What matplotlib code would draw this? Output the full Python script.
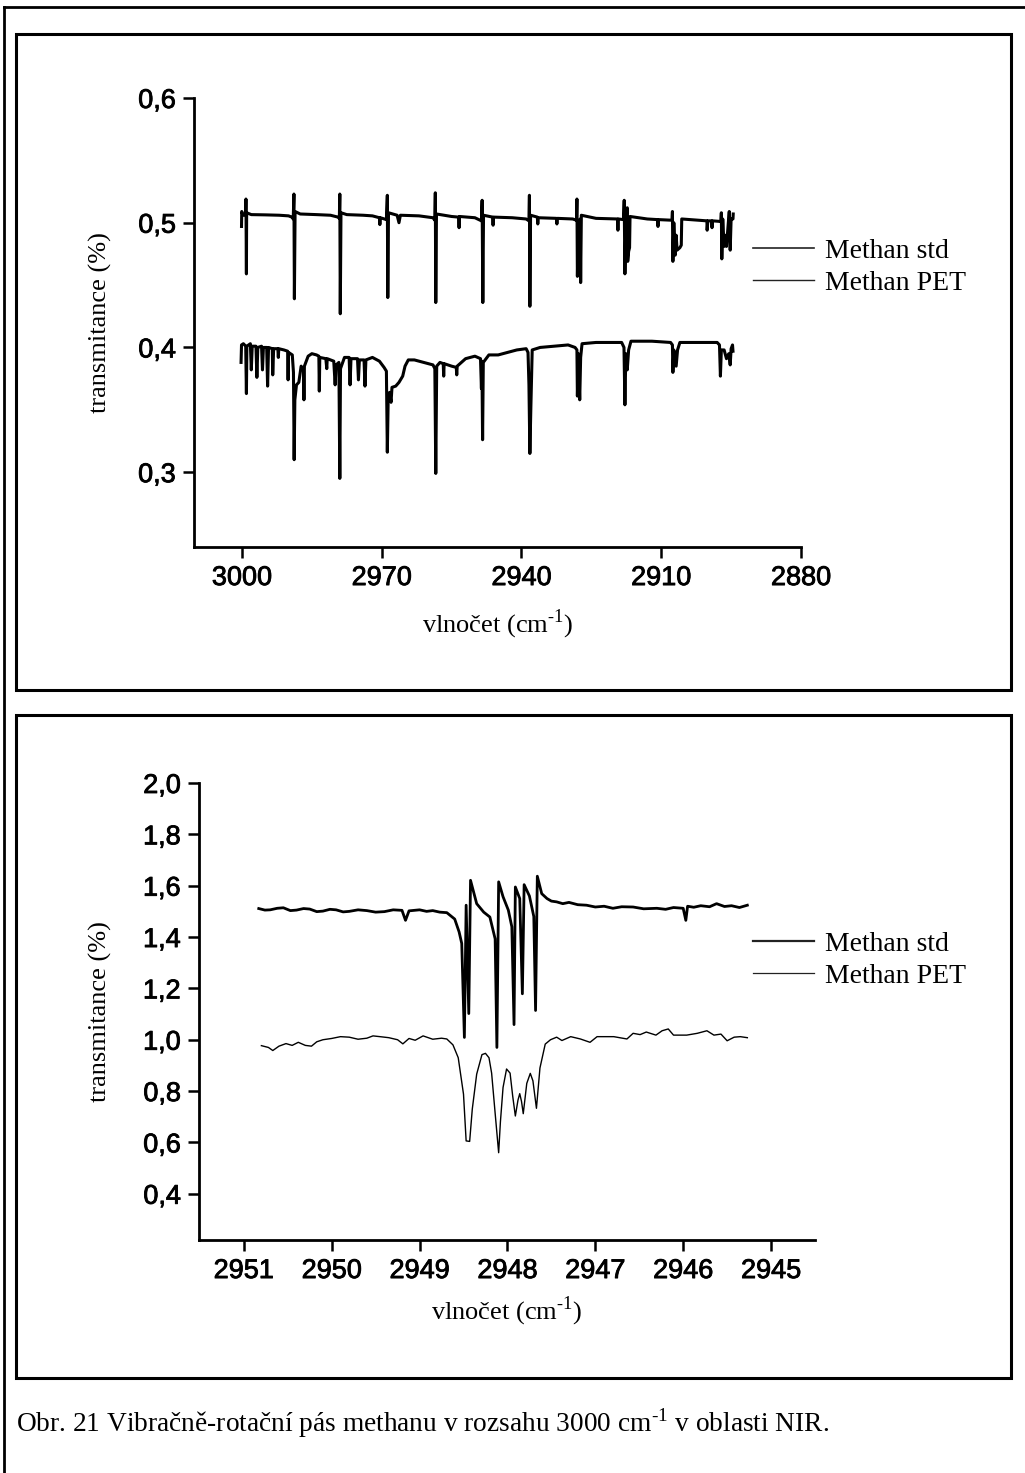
import matplotlib
matplotlib.use("Agg")
import matplotlib.pyplot as plt
import matplotlib.patheffects as pe
from matplotlib.lines import Line2D
from matplotlib.patches import Rectangle
from matplotlib.ticker import FixedLocator, FuncFormatter


W, H = 1025, 1473

# top panel: whole band, wavenumber (cm-1) / transmittance
top_std_x = [
    3000.1, 3000.05, 2999.8, 2999.2, 2999.15, 2999.05, 2999.0, 2998.0, 2995.0, 2992.0,
    2990.0, 2989.3, 2989.0, 2988.85, 2988.75, 2988.6, 2987.5, 2984.0, 2981.0, 2979.4,
    2979.1, 2979.0, 2978.9, 2978.75, 2977.5, 2974.0, 2972.0, 2970.5, 2970.4, 2970.3,
    2969.0, 2968.8, 2968.7, 2968.55, 2966.7, 2966.3, 2966.0, 2962.0, 2959.0, 2958.6,
    2958.5, 2958.4, 2958.25, 2955.0, 2953.5, 2953.4, 2953.3, 2950.0, 2948.6, 2948.45,
    2948.3, 2948.15, 2946.2, 2946.1, 2946.0, 2942.0, 2939.0, 2938.4, 2938.3, 2938.2,
    2938.05, 2936.6, 2936.5, 2936.4, 2932.5, 2932.4, 2932.3, 2929.0, 2928.2, 2928.1,
    2928.0, 2927.8, 2927.4, 2927.3, 2927.15, 2924.0, 2919.4, 2919.3, 2919.2, 2918.1,
    2917.95, 2917.8, 2917.6, 2917.3, 2917.2, 2917.0, 2916.8, 2916.7, 2913.0, 2910.8,
    2910.7, 2910.6, 2907.7, 2907.6, 2907.5, 2907.3, 2907.0, 2906.8, 2906.6, 2906.0,
    2905.7, 2905.6, 2902.0, 2900.2, 2900.15, 2900.0, 2899.2, 2899.1, 2899.0, 2897.2,
    2897.1, 2897.0, 2896.8, 2896.5, 2896.3, 2896.0, 2895.6, 2895.4, 2895.2, 2895.0,
    2894.6, 2894.55,
]
top_std_y = [
    0.497, 0.509, 0.506, 0.5065, 0.519, 0.459, 0.508, 0.5065, 0.5063, 0.506,
    0.5055, 0.5045, 0.503, 0.523, 0.439, 0.509, 0.507, 0.5065, 0.506, 0.5045,
    0.5035, 0.523, 0.427, 0.508, 0.5065, 0.506, 0.5055, 0.504, 0.4985, 0.504,
    0.5025, 0.522, 0.440, 0.508, 0.506, 0.500, 0.506, 0.5055, 0.504, 0.502,
    0.524, 0.436, 0.507, 0.505, 0.5045, 0.496, 0.505, 0.504, 0.5015, 0.518,
    0.436, 0.506, 0.5045, 0.498, 0.5045, 0.504, 0.503, 0.5015, 0.522, 0.433,
    0.506, 0.5045, 0.499, 0.504, 0.5035, 0.499, 0.5035, 0.503, 0.502, 0.519,
    0.457, 0.500, 0.503, 0.452, 0.506, 0.5035, 0.503, 0.494, 0.503, 0.5025,
    0.518, 0.459, 0.500, 0.512, 0.469, 0.477, 0.480, 0.505, 0.503, 0.5025,
    0.497, 0.5025, 0.502, 0.509, 0.469, 0.500, 0.474, 0.490, 0.478, 0.480,
    0.482, 0.503, 0.502, 0.5015, 0.494, 0.5015, 0.5015, 0.496, 0.5015, 0.501,
    0.508, 0.471, 0.503, 0.481, 0.490, 0.481, 0.500, 0.509, 0.478, 0.503,
    0.503, 0.507,
]

top_pet_x = [
    3000.2, 3000.1, 2999.7, 2999.2, 2999.05, 2998.95, 2998.2, 2998.0, 2997.8, 2997.0,
    2996.8, 2996.6, 2995.8, 2995.6, 2995.4, 2994.7, 2994.5, 2994.3, 2993.5, 2993.4,
    2993.2, 2992.3, 2992.2, 2992.1, 2991.0, 2990.2, 2990.1, 2990.0, 2989.2, 2988.95,
    2988.8, 2988.65, 2988.3, 2987.8, 2987.3, 2986.8, 2986.7, 2986.6, 2985.8, 2985.0,
    2984.0, 2983.5, 2983.4, 2983.3, 2982.0, 2981.8, 2981.7, 2980.3, 2980.0, 2979.8,
    2979.2, 2979.0, 2978.85, 2978.0, 2977.0, 2976.8, 2976.6, 2975.2, 2975.0, 2974.8,
    2973.8, 2973.6, 2973.4, 2972.0, 2970.5, 2969.5, 2969.0, 2968.8, 2968.6, 2968.3,
    2968.0, 2967.8, 2967.0, 2966.3, 2965.5, 2965.0, 2964.3, 2963.0, 2961.0, 2959.0,
    2958.6, 2958.4, 2958.2, 2957.5, 2956.8, 2956.7, 2956.6, 2955.0, 2954.0, 2953.9,
    2953.8, 2952.0, 2950.0, 2948.8, 2948.6, 2948.5, 2948.35, 2948.2, 2947.0, 2945.0,
    2943.0, 2941.0, 2939.0, 2938.6, 2938.4, 2938.2, 2938.0, 2937.7, 2936.0, 2933.0,
    2930.0, 2928.5, 2928.1, 2928.0, 2927.8, 2927.5, 2927.3, 2927.0, 2924.0, 2921.0,
    2918.5, 2918.0, 2917.8, 2917.6, 2917.3, 2917.0, 2916.5, 2912.0, 2908.0, 2907.6,
    2907.5, 2907.3, 2906.8, 2906.5, 2906.0, 2902.0, 2898.0, 2897.5, 2897.3, 2897.1,
    2896.5, 2896.0, 2895.5, 2895.2, 2895.0, 2894.7, 2894.6,
]
top_pet_y = [
    0.388, 0.402, 0.403, 0.401, 0.363, 0.401, 0.403, 0.382, 0.401, 0.401,
    0.376, 0.400, 0.401, 0.382, 0.400, 0.400, 0.369, 0.400, 0.399, 0.378,
    0.399, 0.399, 0.392, 0.399, 0.398, 0.397, 0.374, 0.396, 0.394, 0.380,
    0.310, 0.358, 0.370, 0.372, 0.385, 0.382, 0.358, 0.385, 0.393, 0.395,
    0.394, 0.393, 0.365, 0.392, 0.391, 0.383, 0.391, 0.389, 0.370, 0.386,
    0.388, 0.295, 0.383, 0.392, 0.392, 0.370, 0.391, 0.391, 0.374, 0.390,
    0.390, 0.369, 0.390, 0.392, 0.389, 0.384, 0.381, 0.316, 0.362, 0.364,
    0.356, 0.368, 0.369, 0.372, 0.377, 0.385, 0.390, 0.390, 0.388, 0.386,
    0.383, 0.299, 0.385, 0.388, 0.387, 0.377, 0.387, 0.385, 0.384, 0.378,
    0.385, 0.391, 0.393, 0.391, 0.367, 0.389, 0.326, 0.388, 0.394, 0.394,
    0.396, 0.398, 0.399, 0.396, 0.370, 0.315, 0.350, 0.398, 0.400, 0.401,
    0.402, 0.400, 0.398, 0.361, 0.395, 0.358, 0.392, 0.403, 0.404, 0.404,
    0.404, 0.400, 0.354, 0.395, 0.382, 0.398, 0.405, 0.405, 0.404, 0.402,
    0.380, 0.398, 0.385, 0.398, 0.404, 0.404, 0.404, 0.402, 0.377, 0.398,
    0.398, 0.391, 0.395, 0.386, 0.399, 0.402, 0.397,
]

# bottom panel: detail around 2948 cm-1
bot_std_x = [
    2950.83, 2950.76, 2950.7, 2950.62, 2950.55, 2950.47, 2950.4, 2950.32, 2950.25, 2950.17,
    2950.1, 2950.02, 2949.95, 2949.87, 2949.8, 2949.7, 2949.6, 2949.5, 2949.4, 2949.3,
    2949.2, 2949.16, 2949.12, 2949.0, 2948.92, 2948.85, 2948.77, 2948.69, 2948.6, 2948.55,
    2948.52, 2948.49, 2948.47, 2948.44, 2948.42, 2948.35, 2948.27, 2948.2, 2948.14, 2948.12,
    2948.10, 2948.05, 2947.99, 2947.95, 2947.925, 2947.91, 2947.86, 2947.83, 2947.81, 2947.75,
    2947.70, 2947.68, 2947.66, 2947.61, 2947.55, 2947.5, 2947.44, 2947.37, 2947.3, 2947.2,
    2947.1, 2947.0, 2946.9, 2946.8, 2946.7, 2946.57, 2946.45, 2946.3, 2946.2, 2946.11,
    2946.0, 2945.97, 2945.95, 2945.88, 2945.8, 2945.7, 2945.62, 2945.53, 2945.45, 2945.36,
    2945.27,
]
bot_std_y = [
    1.511, 1.505, 1.506, 1.512, 1.514, 1.503, 1.505, 1.511, 1.509, 1.499,
    1.501, 1.508, 1.506, 1.498, 1.500, 1.506, 1.503, 1.497, 1.499, 1.506,
    1.504, 1.465, 1.502, 1.506, 1.500, 1.503, 1.497, 1.495, 1.470, 1.420,
    1.375, 1.009, 1.524, 1.102, 1.621, 1.530, 1.497, 1.478, 1.393, 0.970,
    1.615, 1.557, 1.505, 1.440, 1.059, 1.595, 1.550, 1.179, 1.604, 1.560,
    1.480, 1.114, 1.637, 1.569, 1.550, 1.540, 1.537, 1.530, 1.535, 1.526,
    1.524, 1.517, 1.520, 1.512, 1.518, 1.517, 1.510, 1.512, 1.508, 1.515,
    1.512, 1.465, 1.520, 1.516, 1.522, 1.518, 1.530, 1.519, 1.522, 1.515,
    1.524,
]

bot_pet_x = [
    2950.80, 2950.72, 2950.67, 2950.6, 2950.52, 2950.45, 2950.38, 2950.3, 2950.23, 2950.17,
    2950.1, 2950.0, 2949.9, 2949.8, 2949.7, 2949.6, 2949.53, 2949.45, 2949.35, 2949.25,
    2949.19, 2949.12, 2949.05, 2948.96, 2948.85, 2948.75, 2948.69, 2948.62, 2948.56, 2948.50,
    2948.47, 2948.43, 2948.40, 2948.35, 2948.29, 2948.25, 2948.21, 2948.18, 2948.14, 2948.10,
    2948.08, 2948.05, 2948.01, 2947.97, 2947.94, 2947.91, 2947.88, 2947.86, 2947.84, 2947.82,
    2947.78, 2947.74, 2947.71, 2947.67, 2947.63, 2947.57, 2947.51, 2947.44, 2947.38, 2947.28,
    2947.17, 2947.06, 2946.98, 2946.79, 2946.64, 2946.57, 2946.49, 2946.42, 2946.31, 2946.24,
    2946.17, 2946.11, 2945.96, 2945.84, 2945.73, 2945.65, 2945.57, 2945.50, 2945.42, 2945.35,
    2945.27,
]
bot_pet_y = [
    0.977, 0.970, 0.958, 0.975, 0.985, 0.978, 0.990, 0.978, 0.975, 0.992,
    1.000, 1.005, 1.012, 1.010, 1.002, 1.006, 1.015, 1.012, 1.008, 1.000,
    0.984, 1.005, 0.998, 1.015, 1.002, 1.006, 1.003, 0.980, 0.930, 0.788,
    0.606, 0.604, 0.730, 0.866, 0.942, 0.947, 0.930, 0.870, 0.714, 0.560,
    0.680, 0.814, 0.886, 0.870, 0.780, 0.703, 0.765, 0.790, 0.760, 0.712,
    0.830, 0.869, 0.840, 0.733, 0.890, 0.983, 1.000, 1.010, 0.997, 1.012,
    1.003, 0.990, 1.012, 1.012, 1.003, 1.025, 1.020, 1.030, 1.018, 1.035,
    1.042, 1.018, 1.018, 1.025, 1.035, 1.018, 1.022, 0.996, 1.010, 1.012,
    1.008,
]

top_xticks = [3000, 2970, 2940, 2910, 2880]
top_yticks = [0.3, 0.4, 0.5, 0.6]
bot_xticks = [2951, 2950, 2949, 2948, 2947, 2946, 2945]
bot_yticks = [0.4, 0.6, 0.8, 1.0, 1.2, 1.4, 1.6, 1.8, 2.0]

series_labels = ["Methan std", "Methan PET"]
ylabel = "transmitance (%)"
xlabel = "vlnočet (cm$^{\\mathregular{\u20101}}$)"
caption = ("Obr. 21 Vibračně-rotační pás methanu v rozsahu 3000 "
           "cm$^{\\mathregular{\u20101}}$ v oblasti NIR.")

SANS = "Liberation Sans"
SERIF = "Liberation Serif"


def px_rect(left, top, right, bottom):
    return [left / W, 1 - bottom / H, (right - left) / W, (bottom - top) / H]


def style_axes(ax, xticks, yticks):
    for side in ("top", "right"):
        ax.spines[side].set_visible(False)
    for side in ("left", "bottom"):
        ax.spines[side].set_linewidth(2.0)
    ax.xaxis.set_major_locator(FixedLocator(xticks))
    ax.yaxis.set_major_locator(FixedLocator(yticks))
    ax.xaxis.set_major_formatter(FuncFormatter(lambda v, p: f"{v:.0f}"))
    ax.yaxis.set_major_formatter(
        FuncFormatter(lambda v, p: f"{v:.1f}".replace(".", ","))
    )
    ax.tick_params(direction="out", length=8, width=1.8, pad=5, labelsize=19.5)
    # scanned digits look a bit heavier than plain Arial
    heavy = [pe.withStroke(linewidth=0.6, foreground="black")]
    for lab in ax.get_xticklabels() + ax.get_yticklabels():
        lab.set_family(SANS)
        lab.set_path_effects(heavy)
    ax.set_xlabel(xlabel, fontsize=19, family=SERIF)
    ax.set_ylabel(ylabel, fontsize=19, family=SERIF)


def add_legend(ax, widths, center_y):
    handles = [Line2D([], [], color="#222222", lw=w) for w in widths]
    ax.legend(
        handles,
        series_labels,
        loc="center left",
        bbox_to_anchor=(753 / W, 1 - center_y / H),
        bbox_transform=ax.figure.transFigure,
        frameon=False,
        borderpad=0,
        borderaxespad=0,
        handlelength=2.2,
        handletextpad=0.4,
        labelspacing=0.25,
        prop={"family": SERIF, "size": 20},
    )


def draw_frames(fig):
    fig.add_artist(Line2D([4 / W, 4 / W], [0, 1 - 7 / H], color="black", lw=2,
                          transform=fig.transFigure))
    fig.add_artist(Line2D([4 / W, 1], [1 - 7 / H, 1 - 7 / H], color="black", lw=2,
                          transform=fig.transFigure))
    for top, bottom in ((34, 690), (715, 1378)):
        fig.add_artist(Rectangle((16 / W, 1 - bottom / H), (1011 - 16) / W,
                                 (bottom - top) / H, fill=False, ec="black", lw=2.2,
                                 transform=fig.transFigure))


def main():
    plt.rcParams["mathtext.fontset"] = "custom"
    plt.rcParams["mathtext.rm"] = SERIF
    plt.rcParams["font.family"] = [SERIF, "DejaVu Sans"]

    fig = plt.figure(figsize=(W / 100, H / 100), dpi=100)
    fig.patch.set_facecolor("white")
    draw_frames(fig)

    ax1 = fig.add_axes(px_rect(194, 98, 801, 547))
    ax1.plot(top_std_x, top_std_y, color="black", lw=2.2)
    ax1.plot(top_pet_x, top_pet_y, color="black", lw=2.2)
    ax1.set_xlim(3010.3, 2880)
    ax1.set_ylim(0.24, 0.6)
    style_axes(ax1, top_xticks, top_yticks)
    ax1.yaxis.set_label_coords(-0.135, 0.5)
    ax1.xaxis.set_label_coords(0.5, -0.135)
    add_legend(ax1, [1.2, 1.0], 267)

    ax2 = fig.add_axes(px_rect(199, 783, 815, 1240))
    ax2.plot(bot_std_x, bot_std_y, color="black", lw=2.0)
    ax2.plot(bot_pet_x, bot_pet_y, color="black", lw=1.0)
    ax2.set_xlim(2951.51, 2944.5)
    ax2.set_ylim(0.22, 2.0)
    style_axes(ax2, bot_xticks, bot_yticks)
    ax2.yaxis.set_label_coords(-0.141, 0.5)
    ax2.xaxis.set_label_coords(0.5, -0.12)
    add_legend(ax2, [1.6, 0.9], 960)

    fig.text(16 / W, 1 - 1423 / H, caption, fontsize=19.7, family=SERIF, va="center")

    fig.savefig("out.png", dpi=100, facecolor="white")
    plt.close(fig)


if __name__ == "__main__":
    main()
